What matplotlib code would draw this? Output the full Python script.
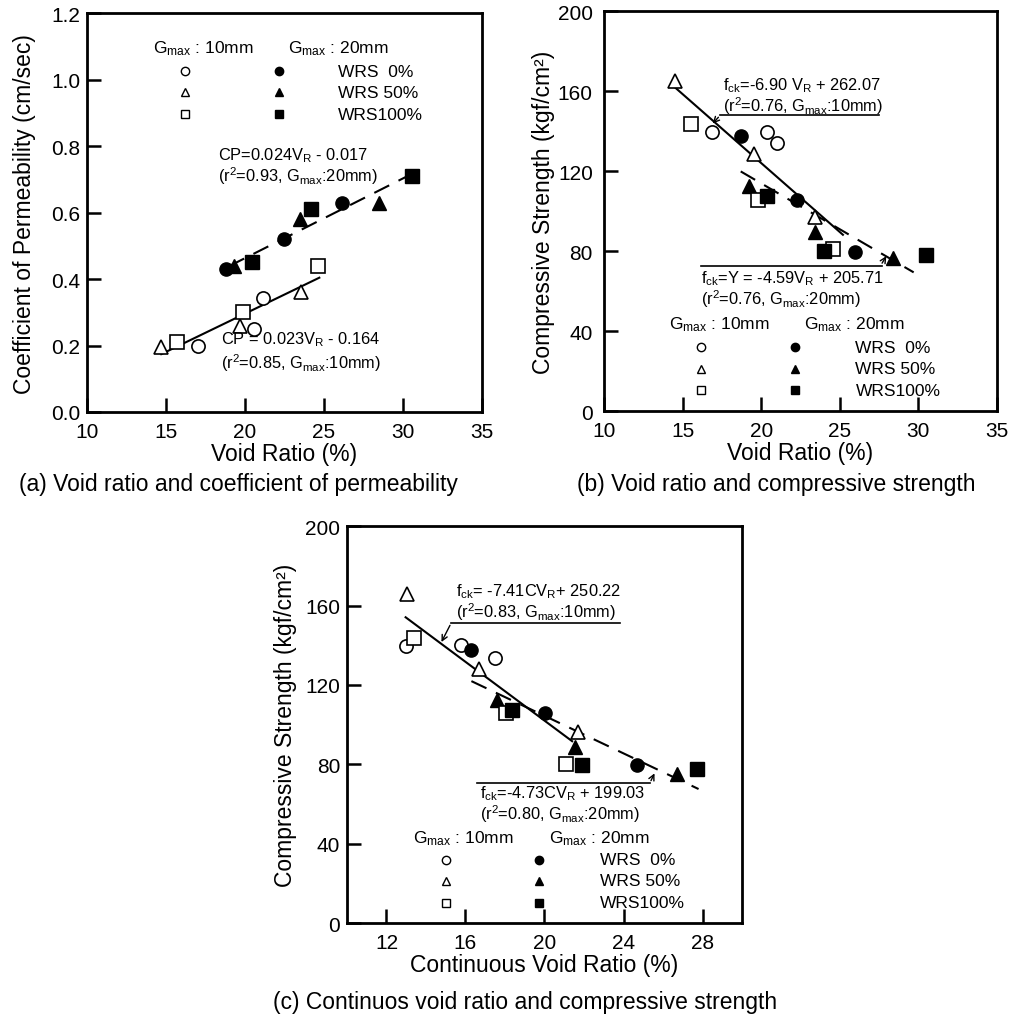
import matplotlib
matplotlib.use("Agg")
from matplotlib import pyplot as plt

plt.rcParams["font.family"] = ["Liberation Sans", "DejaVu Sans"]
plt.rcParams["mathtext.fontset"] = "custom"
plt.rcParams["mathtext.rm"] = "Liberation Sans"
plt.rcParams["mathtext.it"] = "Liberation Sans"
plt.rcParams["mathtext.bf"] = "Liberation Sans:bold"

# Series names and markers (open = Gmax 10mm, filled = Gmax 20mm)
series_labels = ["WRS  0%", "WRS 50%", "WRS100%"]
series_markers = ["o", "^", "s"]

# (a) Void ratio vs coefficient of permeability
a_open_x = [[17.05, 21.13, 20.54], [14.66, 19.65, 23.56], [15.68, 19.86, 24.6]]
a_open_y = [[0.20, 0.342, 0.25], [0.195, 0.26, 0.36], [0.21, 0.30, 0.44]]
a_fill_x = [[18.8, 22.48, 26.14], [19.3, 23.5, 28.5], [20.45, 24.2, 30.54]]
a_fill_y = [[0.43, 0.52, 0.63], [0.44, 0.58, 0.63], [0.45, 0.61, 0.71]]
a_fit10 = (0.023, -0.164, 14.7, 24.7)
a_fit20 = (0.024, -0.017, 19.0, 30.5)

# (b) Void ratio vs compressive strength
b_open_x = [[16.9, 20.4, 21.0], [14.49, 19.52, 23.45], [15.53, 19.78, 24.55]]
b_open_y = [[139.8, 139.8, 134.0], [165.3, 128.7, 97.0], [143.7, 105.7, 81.2]]
b_fill_x = [[18.7, 22.3, 26.0], [19.25, 23.45, 28.4], [20.37, 24.0, 30.5]]
b_fill_y = [[137.8, 105.7, 79.8], [112.8, 89.5, 76.5], [107.8, 80.0, 78.2]]
b_fit10 = (-6.90, 262.07, 14.5, 25.2)
b_fit20 = (-4.59, 205.71, 18.7, 29.7)

# (c) Continuous void ratio vs compressive strength
c_open_x = [[12.97, 15.79, 17.47], [13.05, 16.67, 21.68], [13.39, 18.03, 21.08]]
c_open_y = [[139.6, 139.9, 133.7], [165.6, 128.2, 96.3], [143.8, 106.0, 80.0]]
c_fill_x = [[16.3, 20.03, 24.68], [17.6, 21.56, 26.69], [18.37, 21.88, 27.74]]
c_fill_y = [[137.6, 105.7, 79.5], [112.4, 88.9, 75.0], [107.4, 79.5, 77.5]]
c_fit10 = (-7.41, 250.22, 12.97, 21.4)
c_fit20 = (-4.73, 199.03, 16.3, 27.8)

GM = r"G$_{\rm max}$"
FS_NOTE = 11.8

fig = plt.figure(figsize=(10.13, 10.20), dpi=100)
ax_a = fig.add_axes([0.0859, 0.5951, 0.390, 0.391])
ax_b = fig.add_axes([0.5962, 0.5960, 0.388, 0.392])
ax_c = fig.add_axes([0.3425, 0.0941, 0.390, 0.389])


def style_axes(ax, xlim, ylim, xticks, yticks, ylabels, ypad):
    ax.set_xlim(*xlim)
    ax.set_ylim(*ylim)
    ax.set_xticks(xticks)
    ax.set_yticks(yticks)
    ax.set_yticklabels(ylabels)
    ax.tick_params(direction="in", length=10, width=1.8, labelsize=15)
    ax.tick_params(axis="x", pad=7)
    ax.tick_params(axis="y", pad=ypad)
    for s in ax.spines.values():
        s.set_linewidth(2)


def draw_points(ax, ox, oy, fx, fy):
    for i, m in enumerate(series_markers):
        ms = 9.5 if m != "^" else 10
        ax.plot(ox[i], oy[i], m, ms=ms, mfc="white", mec="black", mew=1.2, ls="none", zorder=3)
        ax.plot(fx[i], fy[i], m, ms=ms, mfc="black", mec="black", ls="none", zorder=3)


def draw_fits(ax, fit10, fit20):
    k, b, x0, x1 = fit10
    ax.plot([x0, x1], [k * x0 + b, k * x1 + b], "k-", lw=1.5, zorder=2)
    k, b, x0, x1 = fit20
    ax.plot([x0, x1], [k * x0 + b, k * x1 + b], color="black", lw=1.5,
            dashes=(8, 5), zorder=2)


def draw_key(ax, head_x, col_x, lab_x, head_y, row_y):
    ax.text(head_x[0], head_y, GM + " : 10mm", fontsize=12.5, va="center")
    ax.text(head_x[1], head_y, GM + " : 20mm", fontsize=12.5, va="center")
    for i, m in enumerate(series_markers):
        ax.plot(col_x[0], row_y[i], m, ms=6, mfc="white", mec="black", mew=1.0)
        ax.plot(col_x[1], row_y[i], m, ms=6, mfc="black", mec="black")
        ax.text(lab_x, row_y[i], series_labels[i], fontsize=12.5, va="center")


# ---- (a)
style_axes(ax_a, (10, 35), (0, 1.2), [10, 15, 20, 25, 30, 35],
           [0, 0.2, 0.4, 0.6, 0.8, 1.0, 1.2],
           ["0.0", "0.2", "0.4", "0.6", "0.8", "1.0", "1.2"], 5)
draw_fits(ax_a, a_fit10, a_fit20)
draw_points(ax_a, a_open_x, a_open_y, a_fill_x, a_fill_y)
draw_key(ax_a, (14.2, 22.7), (16.2, 22.15), 25.9, 1.095, (1.025, 0.962, 0.896))
ax_a.text(18.3, 0.773, r"CP=0.024V$_{\rm R}$ - 0.017", fontsize=FS_NOTE, va="center")
ax_a.text(18.3, 0.713, r"(r$^2$=0.93, " + GM + ":20mm)", fontsize=FS_NOTE, va="center")
ax_a.text(18.5, 0.220, r"CP = 0.023V$_{\rm R}$ - 0.164", fontsize=FS_NOTE, va="center")
ax_a.text(18.5, 0.150, r"(r$^2$=0.85, " + GM + ":10mm)", fontsize=FS_NOTE, va="center")
ax_a.set_xlabel("Void Ratio (%)", fontsize=16.5, labelpad=1)
ax_a.set_ylabel("Coefficient of Permeability (cm/sec)", fontsize=16.5, labelpad=11)

# ---- (b)
style_axes(ax_b, (10, 35), (0, 200), [10, 15, 20, 25, 30, 35],
           [0, 40, 80, 120, 160, 200], ["0", "40", "80", "120", "160", "200"], 8)
draw_fits(ax_b, b_fit10, b_fit20)
draw_points(ax_b, b_open_x, b_open_y, b_fill_x, b_fill_y)
draw_key(ax_b, (14.15, 22.75), (16.2, 22.18), 26.0, 43.7, (32, 21.2, 10.3))
ax_b.text(17.6, 163.5, r"f$_{\rm ck}$=-6.90 V$_{\rm R}$ + 262.07", fontsize=FS_NOTE, va="center")
ax_b.text(17.6, 153.0, r"(r$^2$=0.76, " + GM + ":10mm)", fontsize=FS_NOTE, va="center")
ax_b.plot([17.4, 27.5], [148, 148], "k-", lw=1.2)
ax_b.annotate("", xy=(16.8, 142.8), xytext=(17.4, 148),
              arrowprops=dict(arrowstyle="->", lw=1.0, color="black"))
ax_b.plot([16.2, 27.7], [72.8, 72.8], "k-", lw=1.2)
ax_b.annotate("", xy=(28.05, 78.7), xytext=(27.6, 72.8),
              arrowprops=dict(arrowstyle="->", lw=1.0, color="black"))
ax_b.text(16.2, 66.5, r"f$_{\rm ck}$=Y = -4.59V$_{\rm R}$ + 205.71", fontsize=FS_NOTE, va="center")
ax_b.text(16.2, 56.5, r"(r$^2$=0.76, " + GM + ":20mm)", fontsize=FS_NOTE, va="center")
ax_b.set_xlabel("Void Ratio (%)", fontsize=16.5, labelpad=1)
ax_b.set_ylabel("Compressive Strength (kgf/cm²)", fontsize=16.5, labelpad=2)

# ---- (c)
style_axes(ax_c, (10, 30), (0, 200), [12, 16, 20, 24, 28],
           [0, 40, 80, 120, 160, 200], ["0", "40", "80", "120", "160", "200"], 5)
draw_fits(ax_c, c_fit10, c_fit20)
draw_points(ax_c, c_open_x, c_open_y, c_fill_x, c_fill_y)
draw_key(ax_c, (13.36, 20.23), (15.0, 19.72), 22.8, 43.1, (31.9, 21.3, 10.1))
ax_c.text(15.5, 167.3, r"f$_{\rm ck}$= -7.41CV$_{\rm R}$+ 250.22", fontsize=FS_NOTE, va="center")
ax_c.text(15.5, 157.0, r"(r$^2$=0.83, " + GM + ":10mm)", fontsize=FS_NOTE, va="center")
ax_c.plot([15.28, 23.8], [151.3, 151.3], "k-", lw=1.2)
ax_c.annotate("", xy=(14.72, 140.4), xytext=(15.28, 151.3),
              arrowprops=dict(arrowstyle="->", lw=1.0, color="black"))
ax_c.plot([16.58, 25.33], [70.5, 70.5], "k-", lw=1.2)
ax_c.annotate("", xy=(25.63, 76.7), xytext=(25.33, 70.5),
              arrowprops=dict(arrowstyle="->", lw=1.0, color="black"))
ax_c.text(16.75, 65.8, r"f$_{\rm ck}$=-4.73CV$_{\rm R}$ + 199.03", fontsize=FS_NOTE, va="center")
ax_c.text(16.75, 55.5, r"(r$^2$=0.80, " + GM + ":20mm)", fontsize=FS_NOTE, va="center")
ax_c.set_xlabel("Continuous Void Ratio (%)", fontsize=16.5, labelpad=1)
ax_c.set_ylabel("Compressive Strength (kgf/cm²)", fontsize=16.5, labelpad=6)

# captions
fig.text(238 / 1013, 1 - 485 / 1020, "(a) Void ratio and coefficient of permeability",
         fontsize=16.5, ha="center", va="center")
fig.text(776 / 1013, 1 - 485 / 1020, "(b) Void ratio and compressive strength",
         fontsize=16.5, ha="center", va="center")
fig.text(525 / 1013, 1 - 1003 / 1020, "(c) Continuos void ratio and compressive strength",
         fontsize=16.5, ha="center", va="center")

fig.savefig("out.png", dpi=100)
